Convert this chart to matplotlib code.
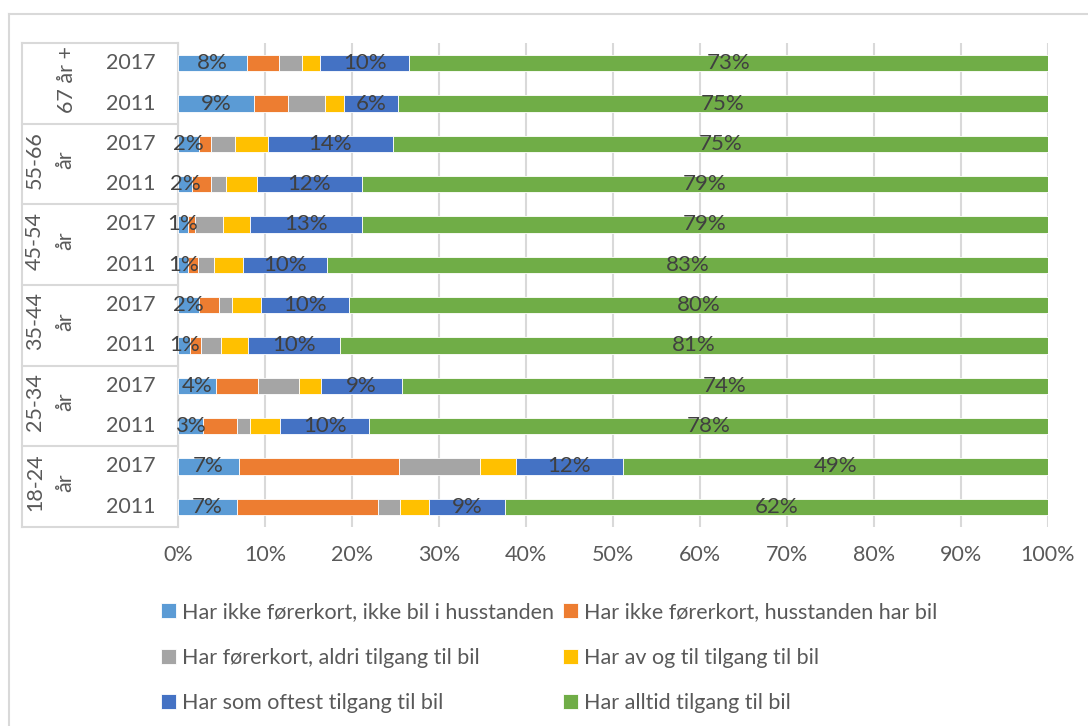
import numpy as np
import matplotlib.pyplot as plt
from matplotlib.lines import Line2D
from matplotlib.transforms import blended_transform_factory

plt.rcParams['font.family'] = ['Lato', 'DejaVu Sans']

# rows from top to bottom
groups = ['67 år +', '55-66\når', '45-54\når', '35-44\når', '25-34\når', '18-24\når']
years = ['2017', '2011']

series = ['Har ikke førerkort, ikke bil i husstanden',
          'Har ikke førerkort, husstanden har bil',
          'Har førerkort, aldri tilgang til bil',
          'Har av og til tilgang til bil',
          'Har som oftest tilgang til bil',
          'Har alltid tilgang til bil']
colors = ['#5B9BD5', '#ED7D31', '#A5A5A5', '#FFC000', '#4472C4', '#70AD47']

# shares in % per row (67+ 2017, 67+ 2011, 55-66 2017, ... 18-24 2011)
ikke_bil = [7.9, 8.7, 2.4, 1.6, 1.1, 1.2, 2.4, 1.4, 4.4, 2.9, 7.0, 6.8]
ikke_fk_bil = [3.7, 3.9, 1.4, 2.2, 0.9, 1.1, 2.3, 1.2, 4.8, 3.9, 18.4, 16.2]
aldri = [2.7, 4.3, 2.7, 1.7, 3.2, 1.8, 1.5, 2.3, 4.7, 1.5, 9.3, 2.5]
av_og_til = [2.0, 2.2, 3.8, 3.6, 3.1, 3.4, 3.3, 3.2, 2.5, 3.4, 4.1, 3.4]
oftest = [10.3, 6.2, 14.4, 12.0, 12.8, 9.6, 10.2, 10.5, 9.3, 10.3, 12.3, 8.7]
alltid = [73.4, 74.7, 75.3, 78.9, 78.9, 82.9, 80.3, 81.4, 74.3, 78.0, 48.9, 62.4]

values = [ikke_bil, ikke_fk_bil, aldri, av_og_til, oftest, alltid]
labelled = [True, False, False, False, True, True]

W, H = 1088, 726
fig = plt.figure(figsize=(W / 100, H / 100), dpi=100)
ax = fig.add_axes([178 / W, 1 - 527 / H, 870 / W, 484 / H])

grid_c = '#D9D9D9'
text_c = '#595959'
lab_c = '#404040'
fs = 15.5

y = np.arange(len(ikke_bil))
left = np.zeros(len(y))
handles = []
for vals, col, name, lab in zip(values, colors, series, labelled):
    vals = np.array(vals)
    bars = ax.barh(y, vals, left=left, height=0.4, color=col, label=name,
                   edgecolor='white', linewidth=0.6, zorder=3)
    handles.append(bars)
    if lab:
        for yi, l, v in zip(y, left, vals):
            ax.text(l + v / 2, yi, f'{round(v):.0f}%', ha='center', va='center',
                    fontsize=16, color=lab_c, zorder=4)
    left += vals

ax.set_xlim(0, 100)
ax.set_ylim(len(y) - 0.5, -0.5)
ax.set_xticks(np.arange(0, 101, 10))
ax.set_xticklabels([f'{t}%' for t in range(0, 101, 10)])
ax.set_yticks([])
ax.tick_params(axis='x', length=0, pad=13, labelsize=fs, labelcolor=text_c)
ax.grid(axis='x', color=grid_c, linewidth=1.5, zorder=0)
for s in ['top', 'right', 'bottom']:
    ax.spines[s].set_visible(False)
ax.spines['left'].set_color(grid_c)
ax.spines['left'].set_linewidth(1.5)

# two-level category table
trans = blended_transform_factory(ax.transAxes, ax.transData)
x_tab = (22 - 178) / 870
line_kw = dict(color=grid_c, linewidth=1.5, transform=ax.transAxes, clip_on=False)
ax.plot([x_tab, x_tab], [0, 1], **line_kw)
for k in range(len(groups) + 1):
    ax.plot([x_tab, 0], [k / len(groups), k / len(groups)], **line_kw)

for i, yi in enumerate(y):
    ax.text((131 - 178) / 870, yi, years[i % 2], transform=trans,
            ha='center', va='center', fontsize=fs, color=text_c)

for g, name in enumerate(groups):
    yc = 2 * g + 0.5
    xg = (67 - 178) / 870 if '\n' not in name else (50 - 178) / 870
    ax.text(xg, yc - 0.1, name, transform=trans, rotation=90, ha='center',
            va='center', multialignment='center', fontsize=fs, color=text_c,
            linespacing=1.6)

# outer chart frame
fig.add_artist(Line2D([9 / W, 9 / W], [0, 1 - 14 / H], color=grid_c, linewidth=1.5))
fig.add_artist(Line2D([9 / W, 1], [1 - 14 / H, 1 - 14 / H], color=grid_c, linewidth=1.5))

order = [0, 2, 4, 1, 3, 5]
leg = fig.legend([handles[i] for i in order], [series[i] for i in order],
                 ncol=2, frameon=False, loc='upper left',
                 bbox_to_anchor=(150 / W, 1 - 591 / H), fontsize=15.5,
                 labelcolor=text_c, handlelength=0.7, handleheight=0.7,
                 handletextpad=0.3, columnspacing=0.4, labelspacing=1.2,
                 borderpad=0)

fig.savefig('out.png', dpi=100)
